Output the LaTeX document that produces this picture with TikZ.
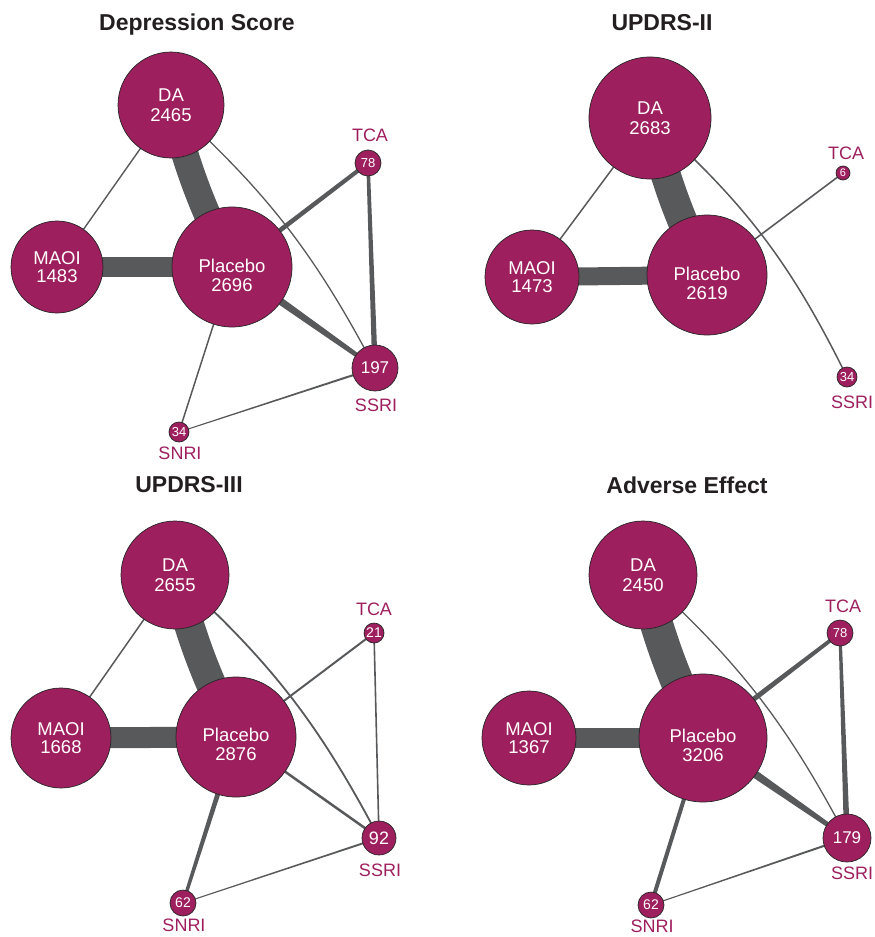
\documentclass[tikz,border=0pt]{standalone}
\usepackage{fontspec}
\setmainfont{Liberation Sans}
\usetikzlibrary{calc,backgrounds}
\definecolor{nodefill}{HTML}{9E1F5E}
\definecolor{edgegray}{HTML}{58595B}
\definecolor{titlecol}{HTML}{231F20}
\newcommand\tpedge[4]{\fill[edgegray] ($(#1.center)!#3!90:(#2.center)$) -- ($(#2.center)!#4!-90:(#1.center)$) -- ($(#2.center)!#4!90:(#1.center)$) -- ($(#1.center)!#3!-90:(#2.center)$) -- cycle;}
\tikzset{
  tnode/.style={circle, draw=black!85, line width=0.7pt, fill=nodefill, text=white, inner sep=0pt, align=center},
  bigtxt/.style={font=\fontsize{18.5}{20.5}\selectfont},
  maotxt/.style={font=\fontsize{18.5}{18}\selectfont},
  plab/.style={text=white, align=center, inner sep=0pt, font=\fontsize{18.5}{19}\selectfont},
  lab/.style={text=nodefill, inner sep=0pt, font=\fontsize{18}{20}\selectfont},
  ttl/.style={text=titlecol, inner sep=0pt, font=\bfseries\fontsize{23}{26}\selectfont},
  conn/.style={draw=edgegray},
}
\begin{document}
\begin{tikzpicture}[x=1pt,y=-1pt]
\useasboundingbox (0,0) rectangle (875,937);
% ---------- Panel A: Depression Score
\node[ttl] (Atitle) at (197,25) {Depression Score};
\node[tnode, bigtxt, minimum size=106pt] (ADA) at (171,105) {DA\\2465};
\node[tnode, maotxt, minimum size=92pt] (AMA) at (57,267) {MAOI\\1483};
\node[tnode, minimum size=120pt, label={[plab, yshift=-8pt]center:Placebo\\2696}] (APL) at (232,267) {};
\node[tnode, minimum size=26pt, font=\fontsize{13}{13}\selectfont] (ATC) at (368,163) {78};
\node[tnode, minimum size=46pt, font=\fontsize{17}{17}\selectfont] (ASS) at (375,368) {197};
\node[tnode, minimum size=20pt, font=\fontsize{13}{13}\selectfont] (ASN) at (179,432) {34};
\node[lab] (ATCl) at (370,135) {TCA};
\node[lab] (ASSl) at (376,405) {SSRI};
\node[lab] (ASNl) at (180,453) {SNRI};
% ---------- Panel B: UPDRS-II
\node[ttl] (Btitle) at (662,23) {UPDRS-II};
\node[tnode, bigtxt, minimum size=122pt] (BDA) at (650,118) {DA\\2683};
\node[tnode, maotxt, minimum size=94pt] (BMA) at (532,277) {MAOI\\1473};
\node[tnode, minimum size=120pt, label={[plab, yshift=-8pt]center:Placebo\\2619}] (BPL) at (707,275) {};
\node[tnode, minimum size=14pt, font=\fontsize{11}{11}\selectfont] (BTC) at (843,173) {6};
\node[tnode, minimum size=20pt, font=\fontsize{13}{13}\selectfont] (BSS) at (847,377) {34};
\node[lab] (BTCl) at (846,153) {TCA};
\node[lab] (BSSl) at (852,402) {SSRI};
% ---------- Panel C: UPDRS-III
\node[ttl] (Ctitle) at (189,485) {UPDRS-III};
\node[tnode, bigtxt, minimum size=108pt] (CDA) at (175,575) {DA\\2655};
\node[tnode, maotxt, minimum size=100pt] (CMA) at (61,738) {MAOI\\1668};
\node[tnode, minimum size=120pt, label={[plab, yshift=-7pt]center:Placebo\\2876}] (CPL) at (236,737) {};
\node[tnode, minimum size=20pt, font=\fontsize{14}{14}\selectfont] (CTC) at (374,633) {21};
\node[tnode, minimum size=34pt, font=\fontsize{18}{18}\selectfont] (CSS) at (379,838) {92};
\node[tnode, minimum size=26pt, font=\fontsize{14}{14}\selectfont] (CSN) at (183,903) {62};
\node[lab] (CTCl) at (374,609) {TCA};
\node[lab] (CSSl) at (380,870) {SSRI};
\node[lab] (CSNl) at (184,925) {SNRI};
% ---------- Panel D: Adverse Effect
\node[ttl] (Dtitle) at (687,485) {Adverse Effect};
\node[tnode, bigtxt, minimum size=108pt] (DDA) at (643,575) {DA\\2450};
\node[tnode, maotxt, minimum size=94pt] (DMA) at (529,738) {MAOI\\1367};
\node[tnode, minimum size=128pt, label={[plab, yshift=-7pt]center:Placebo\\3206}] (DPL) at (703,738) {};
\node[tnode, minimum size=26pt, font=\fontsize{13}{13}\selectfont] (DTC) at (840,633) {78};
\node[tnode, minimum size=48pt, font=\fontsize{17}{17}\selectfont] (DSS) at (847,838) {179};
\node[tnode, minimum size=26pt, font=\fontsize{14}{14}\selectfont] (DSN) at (651,905) {62};
\node[lab] (DTCl) at (843,606) {TCA};
\node[lab] (DSSl) at (852,873) {SSRI};
\node[lab] (DSNl) at (652,926) {SNRI};
% ---------- connectors
\begin{scope}[on background layer]
  % A
  \draw[conn, line width=27pt] (ADA.center) to[bend right=6] (APL.center);
  \draw[conn, line width=20pt] (AMA.center) -- (APL.center);
  \draw[conn, line width=1.4pt] (ADA.center) -- (AMA.center);
  \draw[conn, line width=1.3pt] (ADA.center) to[bend left=10] (ASS.center);
  \tpedge{APL}{ATC}{2.5pt}{2pt}
  \tpedge{ATC}{ASS}{1.7pt}{2.8pt}
  \tpedge{APL}{ASS}{4.5pt}{2pt}
  \draw[conn, line width=1.5pt] (APL.center) -- (ASN.center);
  \tpedge{ASN}{ASS}{0.5pt}{1.1pt}
  % B
  \draw[conn, line width=30pt] (BDA.center) to[bend right=6] (BPL.center);
  \draw[conn, line width=18pt] (BMA.center) -- (BPL.center);
  \draw[conn, line width=1.5pt] (BDA.center) -- (BMA.center);
  \draw[conn, line width=1.6pt] (BPL.center) -- (BTC.center);
  \draw[conn, line width=1.5pt] (BDA.center) to[bend left=11] (BSS.center);
  % C
  \draw[conn, line width=30pt] (CDA.center) to[bend right=6] (CPL.center);
  \draw[conn, line width=21pt] (CMA.center) -- (CPL.center);
  \draw[conn, line width=1.5pt] (CDA.center) -- (CMA.center);
  \draw[conn, line width=1.8pt] (CDA.center) to[bend left=10] (CSS.center);
  \draw[conn, line width=2pt] (CPL.center) -- (CTC.center);
  \draw[conn, line width=1.6pt] (CTC.center) -- (CSS.center);
  \draw[conn, line width=2.5pt] (CPL.center) -- (CSS.center);
  \tpedge{CPL}{CSN}{2.8pt}{1.6pt}
  \tpedge{CSN}{CSS}{0.5pt}{1pt}
  % D
  \draw[conn, line width=33pt] (DDA.center) to[bend right=6] (DPL.center);
  \draw[conn, line width=20pt] (DMA.center) -- (DPL.center);
  \draw[conn, line width=1.3pt] (DDA.center) to[bend left=10] (DSS.center);
  \tpedge{DPL}{DTC}{3pt}{1.8pt}
  \tpedge{DTC}{DSS}{1.5pt}{3pt}
  \tpedge{DPL}{DSS}{5pt}{2pt}
  \draw[conn, line width=4pt] (DPL.center) -- (DSN.center);
  \tpedge{DSN}{DSS}{0.5pt}{1.1pt}
\end{scope}
\end{tikzpicture}
\end{document}
